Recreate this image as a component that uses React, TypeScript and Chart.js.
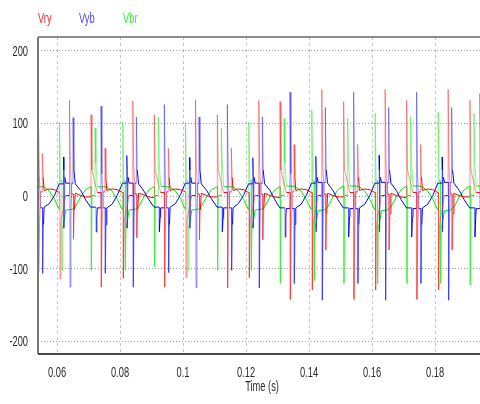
import { useEffect, useRef } from 'react';
import { Chart, registerables } from 'chart.js';

Chart.register(...registerables);

const seriesNames = ['Vry', 'Vyb', 'Vbr'];
const seriesColors = ['rgb(255,0,0)', 'rgb(0,0,255)', 'rgb(0,235,0)'];
const spikeColors = ['rgba(255,40,40,0.5)', 'rgba(40,40,255,0.5)', 'rgba(40,240,40,0.55)'];
const legendColors = ['#ff2a2a', '#4848ff', '#30f030'];

const xTickValues = [0.06, 0.08, 0.1, 0.12, 0.14, 0.16, 0.18];
const xTickLabels = ['0.06', '0.08', '0.1', '0.12', '0.14', '0.16', '0.18'];
const yTickValues = [200, 100, 0, -100, -200];
const yTickLabels = ['200', '100', '0', '-100', '-200'];
const xAxisTitle = 'Time (s)';
const xMin = 0.053968;
const xMax = 0.194286;
const yMin = -218;
const yMax = 218;

// slow (between-switching) waveform samples, seconds
const baseTimes = [
  0.05,
  0.0529, 0.0548, 0.0559, 0.0576, 0.0592, 0.0607,
  0.0628, 0.0647, 0.0658, 0.0675, 0.0691, 0.0707,
  0.0728, 0.0747, 0.0758, 0.0775, 0.0791, 0.0808,
  0.0829, 0.0848, 0.0859, 0.0876, 0.0892, 0.0908,
  0.0929, 0.0948, 0.0959, 0.0976, 0.0992, 0.1007,
  0.1028, 0.1047, 0.1058, 0.1075, 0.1091, 0.1108,
  0.1129, 0.1148, 0.1159, 0.1176, 0.1192, 0.1208,
  0.1229, 0.1248, 0.1259, 0.1276, 0.1292, 0.1307,
  0.1328, 0.1347, 0.1358, 0.1375, 0.1391, 0.1408,
  0.1429, 0.1448, 0.1459, 0.1476, 0.1492, 0.1509,
  0.153, 0.1549, 0.156, 0.1577, 0.1593, 0.1609,
  0.163, 0.1649, 0.166, 0.1677, 0.1693, 0.1709,
  0.173, 0.1749, 0.176, 0.1777, 0.1793, 0.1809,
  0.183, 0.1849, 0.186, 0.1877, 0.1893, 0.191,
  0.1931, 0.195,
];

const vryBase = [
  -2,
  4, 5, 7, 9, 8, 4,
  0, 2, 3, 0, -2, -2,
  4, 5, 7, 9, 8, 4,
  0, 2, 3, 1, -2, -3,
  4, 5, 7, 9, 8, 5,
  0, 2, 3, 0, -2, -2,
  4, 5, 7, 9, 8, 4,
  0, 2, 3, 0, -2, -3,
  4, 5, 7, 9, 8, 4,
  0, 2, 3, 0, -2, -2,
  4, 5, 7, 9, 8, 4,
  0, 2, 3, 0, -2, -3,
  4, 5, 7, 9, 8, 4,
  0, 2, 3, 0, -2, -2,
  4, 5,
];

const vybBase = [
  -16,
  -17, -17, -16, -11, 0, 16,
  17, 17, 16, 7, -6, -16,
  -17, -17, -17, -12, 0, 17,
  17, 17, 16, 6, -6, -16,
  -17, -17, -16, -11, 1, 17,
  17, 17, 16, 7, -5, -16,
  -17, -17, -17, -11, 0, 16,
  17, 17, 16, 7, -6, -17,
  -18, -18, -17, -12, 0, 17,
  18, 18, 17, 7, -6, -17,
  -18, -18, -17, -12, 0, 17,
  18, 18, 17, 7, -6, -17,
  -18, -18, -17, -12, 0, 17,
  18, 18, 17, 7, -6, -17,
  -18, -18,
];

const vbrBase = [
  12,
  12, 12, 12, 6, -5, -19,
  -20, -19, -16, -2, 8, 12,
  12, 12, 12, 6, -5, -20,
  -20, -19, -16, -2, 8, 12,
  13, 12, 12, 6, -4, -19,
  -20, -19, -15, -2, 8, 12,
  12, 12, 12, 6, -5, -20,
  -20, -19, -16, -2, 8, 12,
  13, 13, 12, 6, -5, -20,
  -21, -20, -16, -2, 8, 13,
  13, 13, 12, 6, -5, -20,
  -21, -20, -16, -2, 8, 13,
  13, 13, 12, 6, -5, -20,
  -21, -20, -16, -2, 8, 13,
  13, 13,
];

// switching spikes: [time (s), peak value, value just after]
const vrySpikes = [
  [0.0509, 110, 35], [0.05417, -105, -40], [0.05534, 58, 25],
  [0.06096, -115, -35], [0.06397, 131, 40], [0.06524, -60, -20],
  [0.0708, 111, 35], [0.07407, -126, -40], [0.07524, 65, 25],
  [0.08106, -114, -35], [0.08407, 130, 40], [0.08534, -58, -20],
  [0.0909, 111, 35], [0.09417, -126, -40], [0.09534, 65, 25],
  [0.10096, -113, -35], [0.10397, 131, 40], [0.10524, -61, -20],
  [0.1109, 111, 35], [0.11417, -127, -40], [0.11534, 65, 25],
  [0.12106, -113, -35], [0.12407, 131, 40], [0.12534, -61, -20],
  [0.1308, 129, 35], [0.13407, -143, -45], [0.13524, 70, 25],
  [0.14106, -130, -40], [0.14407, 146, 45], [0.14534, -75, -25],
  [0.151, 129, 35], [0.15427, -143, -45], [0.15544, 70, 25],
  [0.16116, -130, -40], [0.16417, 146, 45], [0.16544, -75, -25],
  [0.171, 131, 35], [0.17427, -143, -45], [0.17544, 70, 25],
  [0.18116, -130, -40], [0.18417, 146, 45], [0.18544, -75, -25],
  [0.1911, 131, 35], [0.19437, -140, -45],
];

const vybSpikes = [
  [0.05249, -50, -30], [0.05407, 120, 30], [0.05544, -107, -40],
  [0.06207, 53, 35], [0.0622, -45, 25], [0.06413, -126, -30], [0.06509, 107, 35],
  [0.07239, -50, -30], [0.07397, 123, 30], [0.07534, -107, -40],
  [0.08217, 55, 35], [0.0823, -45, 25], [0.08423, -126, -30], [0.08519, 108, 35],
  [0.09249, -50, -30], [0.09407, 125, 30], [0.09544, -106, -40],
  [0.10207, 52, 35], [0.1022, -45, 25], [0.10413, -127, -30], [0.10509, 108, 35],
  [0.11249, -50, -30], [0.11407, 125, 30], [0.11544, -103, -40],
  [0.12217, 52, 35], [0.1223, -45, 25], [0.12423, -127, -30], [0.12519, 108, 35],
  [0.13239, -57, -30], [0.13397, 142, 30], [0.13534, -121, -40],
  [0.14217, 54, 35], [0.1423, -50, 25], [0.14423, -144, -30], [0.14519, 121, 35],
  [0.15259, -57, -30], [0.15417, 142, 30], [0.15554, -121, -40],
  [0.16227, 55, 35], [0.1624, -50, 25], [0.16433, -144, -30], [0.16529, 121, 35],
  [0.17259, -57, -30], [0.17417, 142, 30], [0.17554, -121, -40],
  [0.18227, 53, 35], [0.1824, -50, 25], [0.18433, -144, -30], [0.18529, 121, 35],
  [0.19269, -57, -30], [0.19427, 140, 30],
];

const vbrSpikes = [
  [0.051, -103, 0], [0.05217, 93, 45],
  [0.0608, 101, 20], [0.06159, -103, -45],
  [0.0709, -103, 0], [0.07207, 93, 45],
  [0.0809, 101, 20], [0.08169, -103, -45],
  [0.091, -98, 0], [0.09217, 108, 45],
  [0.1008, 101, 20], [0.10159, -103, -45],
  [0.111, -103, 0], [0.11217, 93, 45],
  [0.1209, 101, 20], [0.12169, -103, -45],
  [0.1309, -121, 0], [0.13207, 106, 45],
  [0.1409, 118, 20], [0.14169, -117, -45],
  [0.1511, -121, 0], [0.15227, 106, 45],
  [0.161, 113, 20], [0.16179, -121, -45],
  [0.1711, -121, 0], [0.17227, 108, 45],
  [0.181, 115, 20], [0.18179, -121, -45],
  [0.1912, -123, 0], [0.19237, 113, 45],
];

type Pt = { x: number; y: number };

function buildSeries(base: number[], spikes: number[][]): Pt[] {
  const events: { t: number; kind: number; v: number; p: number; tail: number }[] = [];
  baseTimes.forEach((t, i) => events.push({ t, kind: 0, v: base[i], p: 0, tail: 0 }));
  spikes.forEach(([t, p, tail]) => events.push({ t, kind: 1, v: 0, p, tail }));
  events.sort((a, b) => a.t - b.t);
  const pts: Pt[] = [];
  let last = base[0];
  for (let k = 0; k < events.length; k++) {
    const e = events[k];
    if (e.kind === 0) {
      pts.push({ x: e.t, y: e.v });
      last = e.v;
    } else {
      const next = events[k + 1];
      const gap = next ? Math.min(0.00028, (next.t - e.t) * 0.6) : 0.00028;
      pts.push({ x: e.t - 0.00003, y: last });
      pts.push({ x: e.t, y: e.p });
      pts.push({ x: e.t + gap, y: e.tail });
      last = e.tail;
    }
  }
  return pts;
}

const FONT = '15px "Liberation Sans", Arial, sans-serif';
const SQUEEZE = 0.62;

function squeezedText(ctx: CanvasRenderingContext2D, txt: string, px: number, py: number, align: CanvasTextAlign) {
  ctx.save();
  ctx.translate(px, py);
  ctx.scale(SQUEEZE, 1);
  ctx.textAlign = align;
  ctx.textBaseline = 'alphabetic';
  ctx.fillText(txt, 0, 0);
  ctx.restore();
}

const framePlugin = {
  id: 'framePlugin',
  beforeDatasetsDraw(chart: any) {
    const { ctx, chartArea, scales } = chart;
    const { left, top, right, bottom } = chartArea;
    ctx.save();
    ctx.lineWidth = 1;
    ctx.strokeStyle = '#c4c4c4';
    ctx.setLineDash([3, 3]);
    xTickValues.forEach((v) => {
      const px = Math.round(scales.x.getPixelForValue(v)) + 0.5;
      ctx.beginPath();
      ctx.moveTo(px, top);
      ctx.lineTo(px, bottom);
      ctx.stroke();
    });
    ctx.strokeStyle = '#9a9a9a';
    ctx.setLineDash([1, 2]);
    yTickValues.forEach((v) => {
      const py = Math.round(scales.y.getPixelForValue(v)) + 0.5;
      ctx.beginPath();
      ctx.moveTo(left, py);
      ctx.lineTo(right, py);
      ctx.stroke();
    });
    ctx.restore();
  },
  afterDraw(chart: any) {
    const { ctx, chartArea, scales } = chart;
    const { left, top, right, bottom } = chartArea;
    ctx.save();
    ctx.setLineDash([]);
    ctx.lineWidth = 2;
    ctx.strokeStyle = '#8c8c8c';
    ctx.beginPath();
    ctx.moveTo(left, top);
    ctx.lineTo(right, top);
    ctx.stroke();
    ctx.strokeStyle = '#777777';
    ctx.beginPath();
    ctx.moveTo(left, top);
    ctx.lineTo(left, bottom);
    ctx.stroke();
    ctx.strokeStyle = '#4a4a4a';
    ctx.beginPath();
    ctx.moveTo(left, bottom);
    ctx.lineTo(right, bottom);
    ctx.stroke();

    ctx.font = FONT;
    ctx.fillStyle = '#2a2a2a';
    xTickValues.forEach((v, i) => squeezedText(ctx, xTickLabels[i], scales.x.getPixelForValue(v), 377, 'center'));
    yTickValues.forEach((v, i) => squeezedText(ctx, yTickLabels[i], 28, scales.y.getPixelForValue(v) + 5.5, 'right'));
    squeezedText(ctx, xAxisTitle, 262, 391, 'center');

    const legendX = [38, 79, 123];
    seriesNames.forEach((n, i) => {
      ctx.fillStyle = legendColors[i];
      squeezedText(ctx, n, legendX[i], 22.5, 'left');
    });
    ctx.restore();
  },
};

export default function App() {
  const ref = useRef<HTMLCanvasElement | null>(null);
  useEffect(() => {
    const canvas = ref.current;
    if (!canvas) return;
    const data = [
      buildSeries(vryBase, vrySpikes),
      buildSeries(vybBase, vybSpikes),
      buildSeries(vbrBase, vbrSpikes),
    ];
    const chart = new Chart(canvas, {
      type: 'line',
      data: {
        datasets: seriesNames.map((n, i) => ({
          label: n,
          data: data[i],
          borderColor: seriesColors[i],
          backgroundColor: seriesColors[i],
          borderWidth: 1,
          pointRadius: 0,
          tension: 0,
          fill: false,
          segment: {
            borderColor: (c: any) =>
              Math.abs(c.p1.y - c.p0.y) > 22 ? spikeColors[i] : seriesColors[i],
          },
        })),
      },
      options: {
        animation: false,
        responsive: false,
        devicePixelRatio: 1,
        parsing: false,
        normalized: true,
        layout: { padding: { left: 38, top: 37, right: 0, bottom: 50 } },
        plugins: { legend: { display: false }, tooltip: { enabled: false } },
        events: [],
        scales: {
          x: { type: 'linear', min: xMin, max: xMax, display: false },
          y: { type: 'linear', min: yMin, max: yMax, display: false },
        },
      },
      plugins: [framePlugin],
    });
    return () => chart.destroy();
  }, []);
  return (
    <div style={{ position: 'fixed', left: 0, top: 0, width: 480, height: 404, background: '#ffffff' }}>
      <canvas ref={ref} width={480} height={404} style={{ width: 480, height: 404, display: 'block' }} />
    </div>
  );
}
